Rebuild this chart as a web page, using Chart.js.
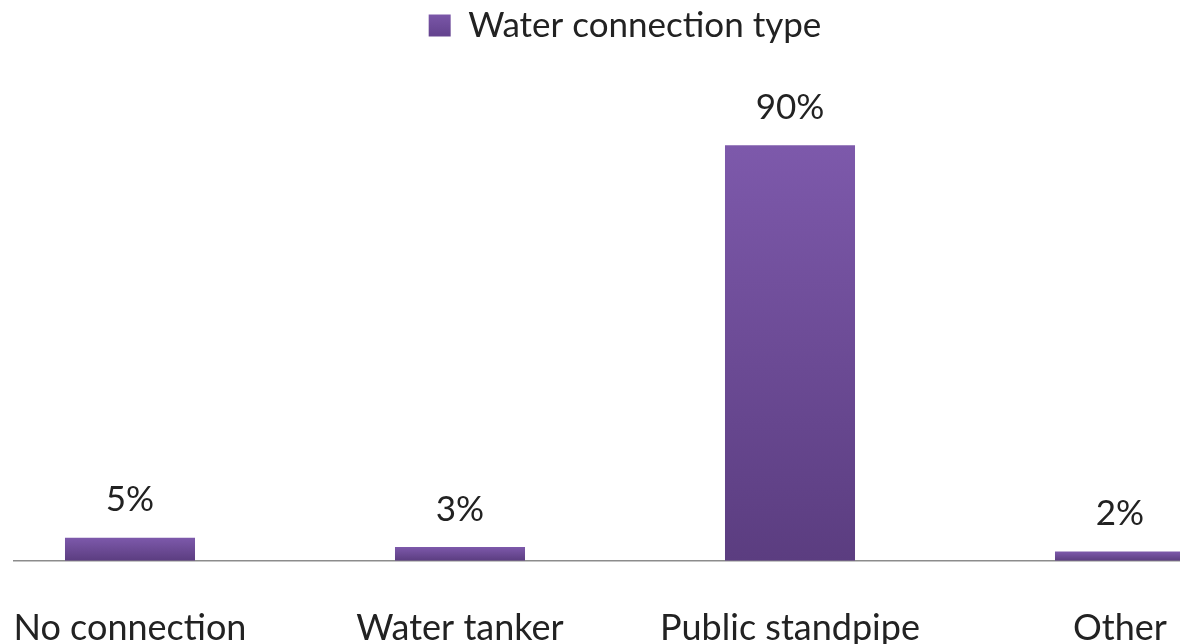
<!DOCTYPE html>
<html lang="en">
<head>
    <meta charset="UTF-8">
    <title>Water connection type</title>
    <script src="https://cdn.jsdelivr.net/npm/chart.js"></script>
    <style>
        html, body { margin: 0; padding: 0; overflow: hidden; background: #fff; width: 1180px; height: 644px; }
        #wrap { position: absolute; left: -35px; top: 0; width: 1320px; height: 696px; }
    </style>
</head>
<body>
    <div id="wrap">
        <canvas id="myChart"></canvas>
    </div>

    <script>
        // chart data
        var categories = ['No connection', 'Water tanker', 'Public standpipe', 'Other'];
        var seriesName = 'Water connection type';
        var values = [5, 3, 90, 2];

        // bar gradient: lighter on top, darker at the base
        function barFill(context) {
            var chart = context.chart;
            var area = chart.chartArea;
            if (!area) return '#6E4C98';
            var y = chart.scales.y;
            var v = context.raw;
            if (v === undefined) {
                // legend box
                var g0 = chart.ctx.createLinearGradient(0, 12, 0, 34);
                g0.addColorStop(0, '#7D59AB');
                g0.addColorStop(1, '#654490');
                return g0;
            }
            var top = y.getPixelForValue(v);
            var bottom = y.getPixelForValue(0);
            var g = chart.ctx.createLinearGradient(0, top, 0, bottom);
            g.addColorStop(0, '#7D59AB');
            g.addColorStop(1, '#5B3D80');
            return g;
        }

        // baseline: starts a little inside the left edge like the original
        var baseLine = {
            id: 'baseLine',
            beforeDatasetsDraw: function(chart) {
                var ctx = chart.ctx;
                var a = chart.chartArea;
                ctx.save();
                ctx.strokeStyle = '#8c8c8c';
                ctx.lineWidth = 1.5;
                ctx.beginPath();
                ctx.moveTo(a.left + 48, a.bottom);
                ctx.lineTo(a.right, a.bottom);
                ctx.stroke();
                ctx.restore();
            }
        };

        // draw the percentage above each bar
        var valueLabels = {
            id: 'valueLabels',
            afterDatasetsDraw: function(chart) {
                var ctx = chart.ctx;
                var meta = chart.getDatasetMeta(0);
                ctx.save();
                ctx.font = '35px Lato';
                ctx.fillStyle = '#222';
                ctx.textAlign = 'center';
                ctx.textBaseline = 'bottom';
                meta.data.forEach(function(bar, i) {
                    ctx.fillText(values[i] + '%', bar.x, bar.y - 20);
                });
                ctx.restore();
            }
        };

        var ctx = document.getElementById('myChart').getContext('2d');
        var myChart = new Chart(ctx, {
            type: 'bar',
            data: {
                labels: categories,
                datasets: [{
                    label: seriesName,
                    data: values,
                    backgroundColor: barFill,
                    borderWidth: 0,
                    categoryPercentage: 1,
                    barPercentage: 0.394
                }]
            },
            options: {
                responsive: true,
                maintainAspectRatio: false,
                animation: false,
                layout: { padding: { top: 0, left: 0, right: 0, bottom: 0 } },
                plugins: {
                    legend: {
                        display: true,
                        position: 'top',
                        labels: {
                            font: { family: 'Lato', size: 35 },
                            color: '#222',
                            boxWidth: 22,
                            boxHeight: 22,
                            padding: 8,
                            generateLabels: function(chart) {
                                return [{
                                    text: seriesName,
                                    fillStyle: barFill({ chart: chart }),
                                    strokeStyle: 'rgba(0,0,0,0)',
                                    lineWidth: 0,
                                    fontColor: '#222',
                                    datasetIndex: 0
                                }];
                            }
                        }
                    },
                    tooltip: { enabled: false }
                },
                scales: {
                    x: {
                        grid: { display: false, drawTicks: false },
                        border: { display: false },
                        ticks: {
                            font: { family: 'Lato', size: 36 },
                            color: '#222',
                            padding: 46,
                            maxRotation: 0
                        }
                    },
                    y: {
                        display: false,
                        min: 0,
                        max: 110
                    }
                }
            },
            plugins: [baseLine, valueLabels]
        });
    </script>
</body>
</html>
